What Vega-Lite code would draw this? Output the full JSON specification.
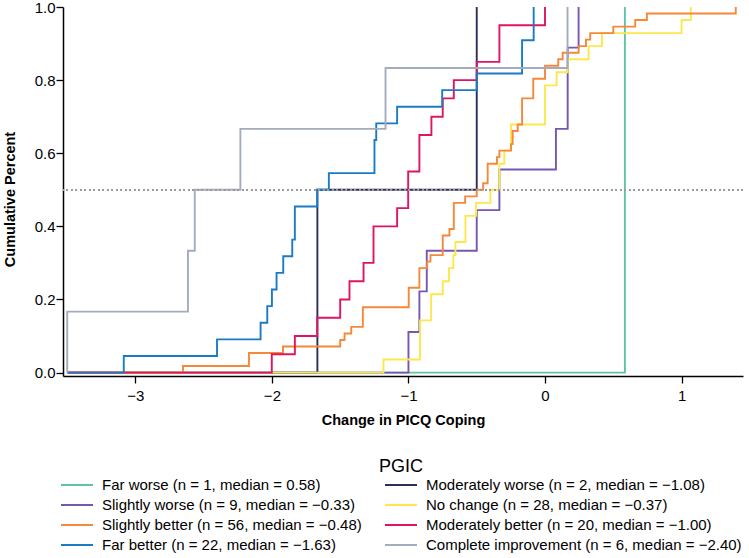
{
  "$schema": "https://vega.github.io/schema/vega-lite/v6.json",
  "width": 680,
  "height": 369,
  "autosize": {"type": "none"},
  "padding": {"left": 63, "top": 7, "right": 6, "bottom": 182},
  "background": "white",
  "config": {"view": {"stroke": null}, "font": "Liberation Sans"},
  "data": {"values": [
    {"g": "Far worse (n = 1, median = 0.58)", "x": -3.5, "p": 0},
    {"g": "Far worse (n = 1, median = 0.58)", "x": 0.585, "p": 1},

    {"g": "Moderately worse (n = 2, median = −1.08)", "x": -3.5, "p": 0},
    {"g": "Moderately worse (n = 2, median = −1.08)", "x": -1.667, "p": 0.5},
    {"g": "Moderately worse (n = 2, median = −1.08)", "x": -0.5, "p": 1},

    {"g": "Slightly worse (n = 9, median = −0.33)", "x": -3.5, "p": 0},
    {"g": "Slightly worse (n = 9, median = −0.33)", "x": -1.0, "p": 0.1111},
    {"g": "Slightly worse (n = 9, median = −0.33)", "x": -0.92, "p": 0.2222},
    {"g": "Slightly worse (n = 9, median = −0.33)", "x": -0.866, "p": 0.3333},
    {"g": "Slightly worse (n = 9, median = −0.33)", "x": -0.5, "p": 0.4444},
    {"g": "Slightly worse (n = 9, median = −0.33)", "x": -0.334, "p": 0.5556},
    {"g": "Slightly worse (n = 9, median = −0.33)", "x": 0.08, "p": 0.6667},
    {"g": "Slightly worse (n = 9, median = −0.33)", "x": 0.166, "p": 0.8889},
    {"g": "Slightly worse (n = 9, median = −0.33)", "x": 0.246, "p": 1},

    {"g": "No change (n = 28, median = −0.37)", "x": -3.5, "p": 0},
    {"g": "No change (n = 28, median = −0.37)", "x": -1.183, "p": 0.0357},
    {"g": "No change (n = 28, median = −0.37)", "x": -0.915, "p": 0.1429},
    {"g": "No change (n = 28, median = −0.37)", "x": -0.834, "p": 0.2143},
    {"g": "No change (n = 28, median = −0.37)", "x": -0.749, "p": 0.25},
    {"g": "No change (n = 28, median = −0.37)", "x": -0.703, "p": 0.2857},
    {"g": "No change (n = 28, median = −0.37)", "x": -0.671, "p": 0.3214},
    {"g": "No change (n = 28, median = −0.37)", "x": -0.656, "p": 0.3571},
    {"g": "No change (n = 28, median = −0.37)", "x": -0.583, "p": 0.4286},
    {"g": "No change (n = 28, median = −0.37)", "x": -0.505, "p": 0.4643},
    {"g": "No change (n = 28, median = −0.37)", "x": -0.4, "p": 0.5},
    {"g": "No change (n = 28, median = −0.37)", "x": -0.334, "p": 0.5714},
    {"g": "No change (n = 28, median = −0.37)", "x": -0.298, "p": 0.6071},
    {"g": "No change (n = 28, median = −0.37)", "x": -0.249, "p": 0.6786},
    {"g": "No change (n = 28, median = −0.37)", "x": 0.0, "p": 0.7857},
    {"g": "No change (n = 28, median = −0.37)", "x": 0.085, "p": 0.8214},
    {"g": "No change (n = 28, median = −0.37)", "x": 0.166, "p": 0.8571},
    {"g": "No change (n = 28, median = −0.37)", "x": 0.319, "p": 0.8929},
    {"g": "No change (n = 28, median = −0.37)", "x": 0.417, "p": 0.9286},
    {"g": "No change (n = 28, median = −0.37)", "x": 1.0, "p": 0.9643},
    {"g": "No change (n = 28, median = −0.37)", "x": 1.068, "p": 1},

    {"g": "Slightly better (n = 56, median = −0.48)", "x": -3.5, "p": 0},
    {"g": "Slightly better (n = 56, median = −0.48)", "x": -2.651, "p": 0.0179},
    {"g": "Slightly better (n = 56, median = −0.48)", "x": -2.168, "p": 0.0536},
    {"g": "Slightly better (n = 56, median = −0.48)", "x": -1.919, "p": 0.0714},
    {"g": "Slightly better (n = 56, median = −0.48)", "x": -1.5, "p": 0.0893},
    {"g": "Slightly better (n = 56, median = −0.48)", "x": -1.468, "p": 0.1071},
    {"g": "Slightly better (n = 56, median = −0.48)", "x": -1.419, "p": 0.125},
    {"g": "Slightly better (n = 56, median = −0.48)", "x": -1.334, "p": 0.1786},
    {"g": "Slightly better (n = 56, median = −0.48)", "x": -0.998, "p": 0.2321},
    {"g": "Slightly better (n = 56, median = −0.48)", "x": -0.92, "p": 0.2857},
    {"g": "Slightly better (n = 56, median = −0.48)", "x": -0.863, "p": 0.3036},
    {"g": "Slightly better (n = 56, median = −0.48)", "x": -0.839, "p": 0.3214},
    {"g": "Slightly better (n = 56, median = −0.48)", "x": -0.749, "p": 0.375},
    {"g": "Slightly better (n = 56, median = −0.48)", "x": -0.7, "p": 0.3929},
    {"g": "Slightly better (n = 56, median = −0.48)", "x": -0.668, "p": 0.4643},
    {"g": "Slightly better (n = 56, median = −0.48)", "x": -0.585, "p": 0.4821},
    {"g": "Slightly better (n = 56, median = −0.48)", "x": -0.5, "p": 0.5},
    {"g": "Slightly better (n = 56, median = −0.48)", "x": -0.453, "p": 0.5179},
    {"g": "Slightly better (n = 56, median = −0.48)", "x": -0.42, "p": 0.5714},
    {"g": "Slightly better (n = 56, median = −0.48)", "x": -0.352, "p": 0.5893},
    {"g": "Slightly better (n = 56, median = −0.48)", "x": -0.334, "p": 0.6071},
    {"g": "Slightly better (n = 56, median = −0.48)", "x": -0.249, "p": 0.625},
    {"g": "Slightly better (n = 56, median = −0.48)", "x": -0.237, "p": 0.6607},
    {"g": "Slightly better (n = 56, median = −0.48)", "x": -0.2, "p": 0.6786},
    {"g": "Slightly better (n = 56, median = −0.48)", "x": -0.168, "p": 0.75},
    {"g": "Slightly better (n = 56, median = −0.48)", "x": -0.086, "p": 0.8036},
    {"g": "Slightly better (n = 56, median = −0.48)", "x": 0.0, "p": 0.8393},
    {"g": "Slightly better (n = 56, median = −0.48)", "x": 0.097, "p": 0.8571},
    {"g": "Slightly better (n = 56, median = −0.48)", "x": 0.129, "p": 0.875},
    {"g": "Slightly better (n = 56, median = −0.48)", "x": 0.246, "p": 0.8929},
    {"g": "Slightly better (n = 56, median = −0.48)", "x": 0.3, "p": 0.9107},
    {"g": "Slightly better (n = 56, median = −0.48)", "x": 0.331, "p": 0.9286},
    {"g": "Slightly better (n = 56, median = −0.48)", "x": 0.5, "p": 0.9464},
    {"g": "Slightly better (n = 56, median = −0.48)", "x": 0.661, "p": 0.9643},
    {"g": "Slightly better (n = 56, median = −0.48)", "x": 0.746, "p": 0.9821},
    {"g": "Slightly better (n = 56, median = −0.48)", "x": 1.397, "p": 1},

    {"g": "Moderately better (n = 20, median = −1.00)", "x": -3.5, "p": 0},
    {"g": "Moderately better (n = 20, median = −1.00)", "x": -2.001, "p": 0.05},
    {"g": "Moderately better (n = 20, median = −1.00)", "x": -1.832, "p": 0.1},
    {"g": "Moderately better (n = 20, median = −1.00)", "x": -1.668, "p": 0.15},
    {"g": "Moderately better (n = 20, median = −1.00)", "x": -1.5, "p": 0.2},
    {"g": "Moderately better (n = 20, median = −1.00)", "x": -1.432, "p": 0.25},
    {"g": "Moderately better (n = 20, median = −1.00)", "x": -1.329, "p": 0.3},
    {"g": "Moderately better (n = 20, median = −1.00)", "x": -1.256, "p": 0.4},
    {"g": "Moderately better (n = 20, median = −1.00)", "x": -1.083, "p": 0.45},
    {"g": "Moderately better (n = 20, median = −1.00)", "x": -1.002, "p": 0.55},
    {"g": "Moderately better (n = 20, median = −1.00)", "x": -0.92, "p": 0.65},
    {"g": "Moderately better (n = 20, median = −1.00)", "x": -0.832, "p": 0.7},
    {"g": "Moderately better (n = 20, median = −1.00)", "x": -0.749, "p": 0.75},
    {"g": "Moderately better (n = 20, median = −1.00)", "x": -0.668, "p": 0.8},
    {"g": "Moderately better (n = 20, median = −1.00)", "x": -0.5, "p": 0.85},
    {"g": "Moderately better (n = 20, median = −1.00)", "x": -0.334, "p": 0.95},
    {"g": "Moderately better (n = 20, median = −1.00)", "x": 0.0, "p": 1},

    {"g": "Far better (n = 22, median = −1.63)", "x": -3.5, "p": 0},
    {"g": "Far better (n = 22, median = −1.63)", "x": -3.085, "p": 0.0455},
    {"g": "Far better (n = 22, median = −1.63)", "x": -2.402, "p": 0.0909},
    {"g": "Far better (n = 22, median = −1.63)", "x": -2.083, "p": 0.1364},
    {"g": "Far better (n = 22, median = −1.63)", "x": -2.034, "p": 0.1818},
    {"g": "Far better (n = 22, median = −1.63)", "x": -2.0, "p": 0.2273},
    {"g": "Far better (n = 22, median = −1.63)", "x": -1.966, "p": 0.2727},
    {"g": "Far better (n = 22, median = −1.63)", "x": -1.917, "p": 0.3182},
    {"g": "Far better (n = 22, median = −1.63)", "x": -1.851, "p": 0.3636},
    {"g": "Far better (n = 22, median = −1.63)", "x": -1.832, "p": 0.4545},
    {"g": "Far better (n = 22, median = −1.63)", "x": -1.668, "p": 0.5},
    {"g": "Far better (n = 22, median = −1.63)", "x": -1.583, "p": 0.5455},
    {"g": "Far better (n = 22, median = −1.63)", "x": -1.249, "p": 0.6364},
    {"g": "Far better (n = 22, median = −1.63)", "x": -1.236, "p": 0.6818},
    {"g": "Far better (n = 22, median = −1.63)", "x": -1.083, "p": 0.7273},
    {"g": "Far better (n = 22, median = −1.63)", "x": -0.753, "p": 0.7727},
    {"g": "Far better (n = 22, median = −1.63)", "x": -0.5, "p": 0.8182},
    {"g": "Far better (n = 22, median = −1.63)", "x": -0.168, "p": 0.9091},
    {"g": "Far better (n = 22, median = −1.63)", "x": -0.083, "p": 1},

    {"g": "Complete improvement (n = 6, median = −2.40)", "x": -3.5, "p": 0},
    {"g": "Complete improvement (n = 6, median = −2.40)", "x": -3.499, "p": 0.1667},
    {"g": "Complete improvement (n = 6, median = −2.40)", "x": -2.615, "p": 0.3333},
    {"g": "Complete improvement (n = 6, median = −2.40)", "x": -2.565, "p": 0.5},
    {"g": "Complete improvement (n = 6, median = −2.40)", "x": -2.231, "p": 0.6667},
    {"g": "Complete improvement (n = 6, median = −2.40)", "x": -1.168, "p": 0.8333},
    {"g": "Complete improvement (n = 6, median = −2.40)", "x": 0.165, "p": 1}
  ]},
  "layer": [
    {
      "mark": {"type": "line", "interpolate": "step-after", "strokeWidth": 1.9, "clip": true},
      "encoding": {
        "x": {
          "field": "x", "type": "quantitative",
          "scale": {"domain": [-3.53, 1.45], "nice": false, "zero": false},
          "axis": {
            "values": [-3, -2, -1, 0, 1], "format": "d", "title": "Change in PICQ Coping",
            "grid": false, "tickSize": 7, "tickWidth": 1.3, "tickColor": "black",
            "domainColor": "black", "domainWidth": 1.5,
            "labelFontSize": 15, "labelColor": "black", "labelPadding": 5,
            "titleFontSize": 14.5, "titleFontWeight": "bold", "titleColor": "black", "titlePadding": 10
          }
        },
        "y": {
          "field": "p", "type": "quantitative",
          "scale": {"domain": [-0.0093, 1], "nice": false, "zero": false},
          "axis": {
            "values": [0, 0.2, 0.4, 0.6, 0.8, 1], "format": ".1f", "title": "Cumulative Percent",
            "grid": false, "tickSize": 7, "tickWidth": 1.3, "tickColor": "black",
            "domainColor": "black", "domainWidth": 1.5,
            "labelFontSize": 15, "labelColor": "black", "labelPadding": 1,
            "titleFontSize": 14.5, "titleFontWeight": "bold", "titleColor": "black", "titlePadding": 17, "titleY": 192
          }
        },
        "color": {
          "field": "g", "type": "nominal",
          "scale": {
            "domain": [
              "Far worse (n = 1, median = 0.58)",
              "Moderately worse (n = 2, median = −1.08)",
              "Slightly worse (n = 9, median = −0.33)",
              "No change (n = 28, median = −0.37)",
              "Slightly better (n = 56, median = −0.48)",
              "Moderately better (n = 20, median = −1.00)",
              "Far better (n = 22, median = −1.63)",
              "Complete improvement (n = 6, median = −2.40)"
            ],
            "range": ["#5EC4A6", "#2C2F5B", "#7557B3", "#FDE74C", "#F5883A", "#DF1463", "#1A7BC5", "#A3ABBD"]
          },
          "legend": {
            "title": "PGIC", "orient": "none", "legendX": -3, "legendY": 451,
            "direction": "horizontal",
            "columns": 2, "columnPadding": 22, "rowPadding": 0, "clipHeight": 20,
            "symbolType": "stroke", "symbolSize": 1024, "symbolStrokeWidth": 2,
            "labelOffset": 8, "labelFontSize": 15, "labelLimit": 0, "labelColor": "black",
            "titleFontSize": 18, "titleFontWeight": "normal", "titleAnchor": "middle",
            "titleColor": "black", "titlePadding": -1, "padding": 0
          }
        },
        "order": {"field": "p", "type": "quantitative"}
      }
    },
    {
      "mark": {"type": "rule", "color": "#9a9a9a", "strokeDash": [1.5, 3], "strokeWidth": 1.4},
      "encoding": {"y": {"datum": 0.5}}
    }
  ]
}
